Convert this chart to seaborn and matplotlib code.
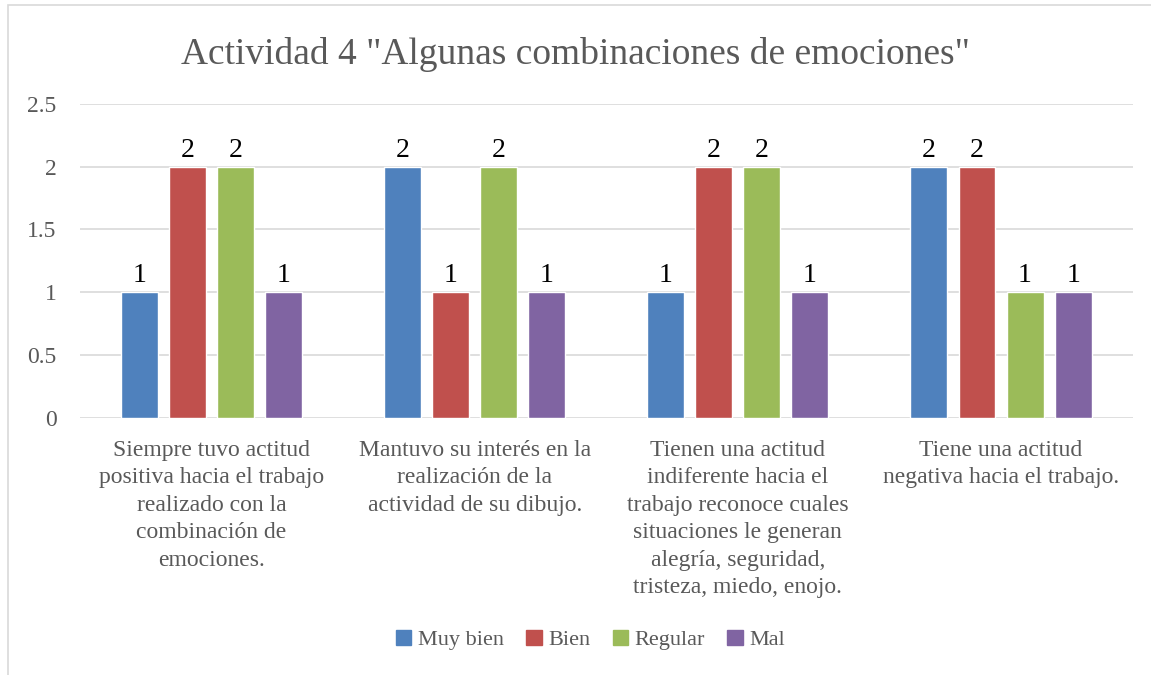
import matplotlib.pyplot as plt
import matplotlib.patches as mpatches
import seaborn as sns
import pandas as pd

# --- datos ---
categorias = [
    "Siempre tuvo actitud\npositiva hacia el trabajo\nrealizado con la\ncombinación de\nemociones.",
    "Mantuvo su interés en la\nrealización de la\nactividad de su dibujo.",
    "Tienen una actitud\nindiferente hacia el\ntrabajo reconoce cuales\nsituaciones le generan\nalegría, seguridad,\ntristeza, miedo, enojo.",
    "Tiene una actitud\nnegativa hacia el trabajo.",
]
series = ["Muy bien", "Bien", "Regular", "Mal"]
muy_bien = [1, 2, 1, 2]
bien = [2, 1, 2, 2]
regular = [2, 2, 2, 1]
mal = [1, 1, 1, 1]
colores = ["#4F81BD", "#C0504D", "#9BBB59", "#8064A2"]

titulo = 'Actividad 4 "Algunas combinaciones de emociones"'

filas = []
for nombre, vals in zip(series, [muy_bien, bien, regular, mal]):
    for cat, v in zip(categorias, vals):
        filas.append({"categoria": cat, "serie": nombre, "valor": v})
df = pd.DataFrame(filas)

sns.set_theme(style="white")
plt.rcParams["font.family"] = ["Liberation Serif", "DejaVu Serif"]

fig = plt.figure(figsize=(11.51, 6.75), dpi=100)
ax = fig.add_axes([0.0695, 0.381, 0.9145, 0.465])

sns.barplot(data=df, x="categoria", y="valor", hue="serie", hue_order=series,
            palette=colores, width=0.73, gap=0.23, saturation=1, ax=ax)

for cont in ax.containers:
    ax.bar_label(cont, fmt="%g", padding=3, fontsize=20, color="black")

ax.set_ylim(0, 2.5)
ax.set_yticks([0, 0.5, 1, 1.5, 2, 2.5])
ax.set_yticklabels(["0", "0.5", "1", "1.5", "2", "2.5"])
ax.grid(axis="y", color="#D9D9D9", linewidth=1.2)
ax.set_axisbelow(True)
for s in ax.spines.values():
    s.set_visible(False)
ax.tick_params(axis="both", length=0, colors="#595959", labelsize=17)
ax.tick_params(axis="y", pad=17)
ax.tick_params(axis="x", pad=16)
for lbl in ax.get_xticklabels():
    lbl.set_linespacing(1.4)
ax.set_xlabel("")
ax.set_ylabel("")
ax.legend_.remove()

fig.suptitle(titulo, fontsize=27, color="#595959", y=0.945)

handles = [mpatches.Patch(color=c, label=s) for c, s in zip(colores, series)]
fig.legend(handles=handles, loc="center", bbox_to_anchor=(0.513, 0.052), ncol=4,
           frameon=False, fontsize=16, handlelength=0.7, handleheight=0.7,
           handletextpad=0.3, columnspacing=1.0, labelcolor="#595959")

# marco del gráfico
fig.add_artist(mpatches.Rectangle((8 / 1151, -0.01), 1.0, 1 - 5 / 675 + 0.01,
                                  transform=fig.transFigure, fill=False,
                                  edgecolor="#D9D9D9", linewidth=1.2))

fig.savefig("out.png", dpi=100)
